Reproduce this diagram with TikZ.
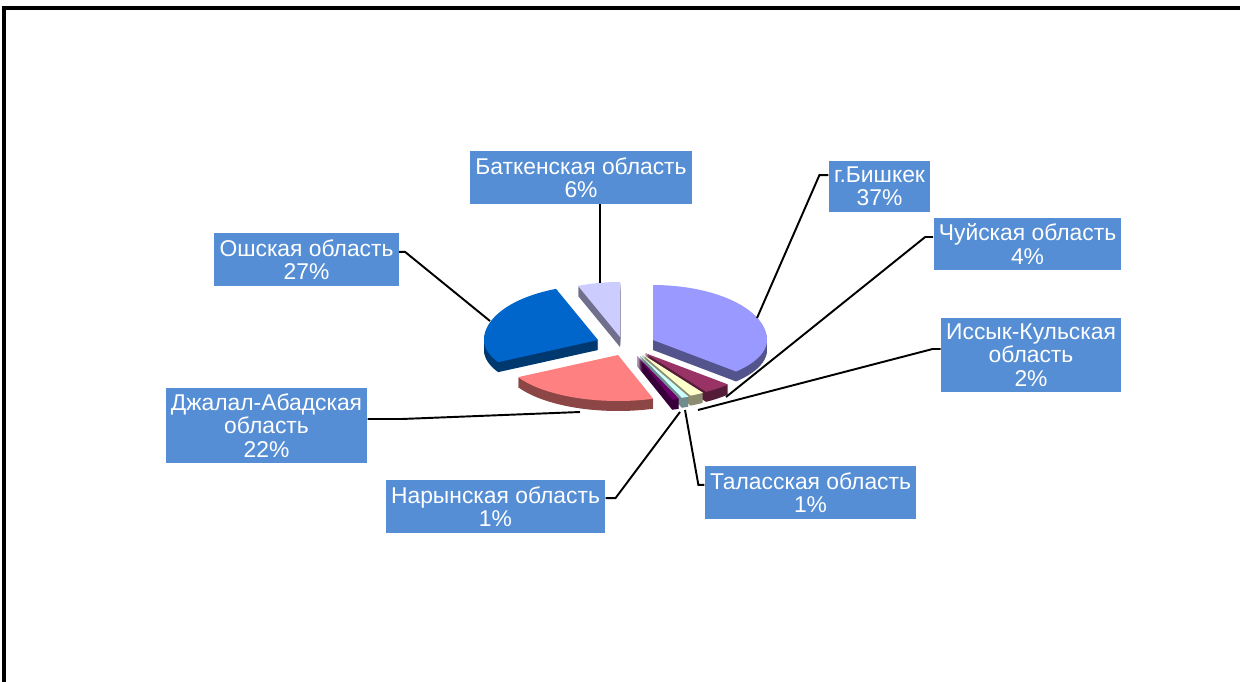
\documentclass[tikz,border=0pt]{standalone}
\usepackage{fontspec}
\setmainfont{Liberation Sans}
\usepackage{tikz}
\usetikzlibrary{calc,positioning}
\definecolor{boxblue}{RGB}{85,142,213}
\definecolor{cbish}{RGB}{153,153,255}
\definecolor{cchui}{RGB}{153,51,102}
\definecolor{cissyk}{RGB}{255,255,204}
\definecolor{ctalas}{RGB}{204,255,255}
\definecolor{cnaryn}{RGB}{102,0,102}
\definecolor{cjalal}{RGB}{255,128,128}
\definecolor{cosh}{RGB}{0,102,204}
\definecolor{cbatken}{RGB}{204,204,255}
\tikzset{
        box/.style = {fill=boxblue, text=white, align=center,
            inner xsep=3pt, inner ysep=3.5pt,
            font=\fontsize{13}{13.3}\selectfont},
        leader/.style = {draw, line width=1.1pt},
        frame/.style = {draw, line width=2pt},
    }
% one slice: apex x, apex y, start angle, end angle, colour
\newcommand{\pieslice}[5]{%
    \foreach \d in {10,9,...,1}{
        \fill[#5!55!black] ({#1},{#2+\d}) -- plot[domain=#3:#4,samples=40]
            ({#1+114*cos(\x)},{#2+\d-(sin(\x)>0?55:46)*sin(\x)}) -- cycle;
    }
    \fill[#5] ({#1},{#2}) -- plot[domain=#3:#4,samples=40]
        ({#1+114*cos(\x)},{#2-(sin(\x)>0?55:46)*sin(\x)}) -- cycle;
}

\begin{document}
\begin{tikzpicture}[x=0.02cm,y=-0.02cm]
                    \useasboundingbox (0,0) rectangle (1240,682);
                    \draw[frame] (4,682) -- (4,8) -- (1240,8);

                    % slices
                    \pieslice{620}{337}{90}{111.6}{cbatken}
                    \pieslice{598}{340}{111.6}{208.8}{cosh}
                    \pieslice{653}{340}{-43.2}{90}{cbish}
                    \pieslice{618}{355}{-151.2}{-72}{cjalal}
                    \pieslice{645}{353}{-57.6}{-43.2}{cchui}
                    \pieslice{642}{354}{-64.8}{-57.6}{cissyk}
                    \pieslice{640}{355}{-68.4}{-64.8}{ctalas}
                    \pieslice{637}{356}{-72}{-68.4}{cnaryn}

                    % labels
                    \node[box] (batken) at (581,177.5) {Баткенская область\\6\%};
                    \node[box] (bishkek) at (879.5,186.5) {г.Бишкек\\37\%};
                    \node[box] (chui) at (1027.5,244) {Чуйская область\\4\%};
                    \node[box] (issyk) at (1031,355) {Иссык-Кульская\\область\\2\%};
                    \node[box] (talas) at (810.5,492.5) {Таласская область\\1\%};
                    \node[box] (naryn) at (495.5,506.5) {Нарынская область\\1\%};
                    \node[box] (jalal) at (266.5,425.5) {Джалал-Абадская\\область\\22\%};
                    \node[box] (osh) at (306.5,259.5) {Ошская область\\27\%};

                    % leader lines
                    \coordinate (pbatken) at (600,283);
                    \coordinate (pbish) at (757,318);
                    \coordinate (pchui) at (726,397);
                    \coordinate (pissyk) at (698,410);
                    \coordinate (ptalas) at (685,410);
                    \coordinate (pnaryn) at (680,412);
                    \coordinate (pjalal) at (580,412);
                    \coordinate (posh) at (490,321);
                    \draw[leader] (batken.south -| pbatken) -- (pbatken);
                    \draw[leader] ([yshift=6.5pt]bishkek.west) -- ++(-9,0) -- (pbish);
                    \draw[leader] ([yshift=4pt]chui.west) -- ++(-8,0) -- (pchui);
                    \draw[leader] ([yshift=3.4pt]issyk.west) -- ++(-8,0) -- (pissyk);
                    \draw[leader] ([yshift=4.3pt]talas.west) -- ++(-6,0) -- (ptalas);
                    \draw[leader] ([yshift=4.8pt]naryn.east) -- ++(10,0) -- (pnaryn);
                    \draw[leader] ([yshift=3.7pt]jalal.east) -- ++(34,0) -- (pjalal);
                    \draw[leader] ([yshift=4.3pt]osh.east) -- ++(6,0) -- (posh);
                \end{tikzpicture}
\end{document}
